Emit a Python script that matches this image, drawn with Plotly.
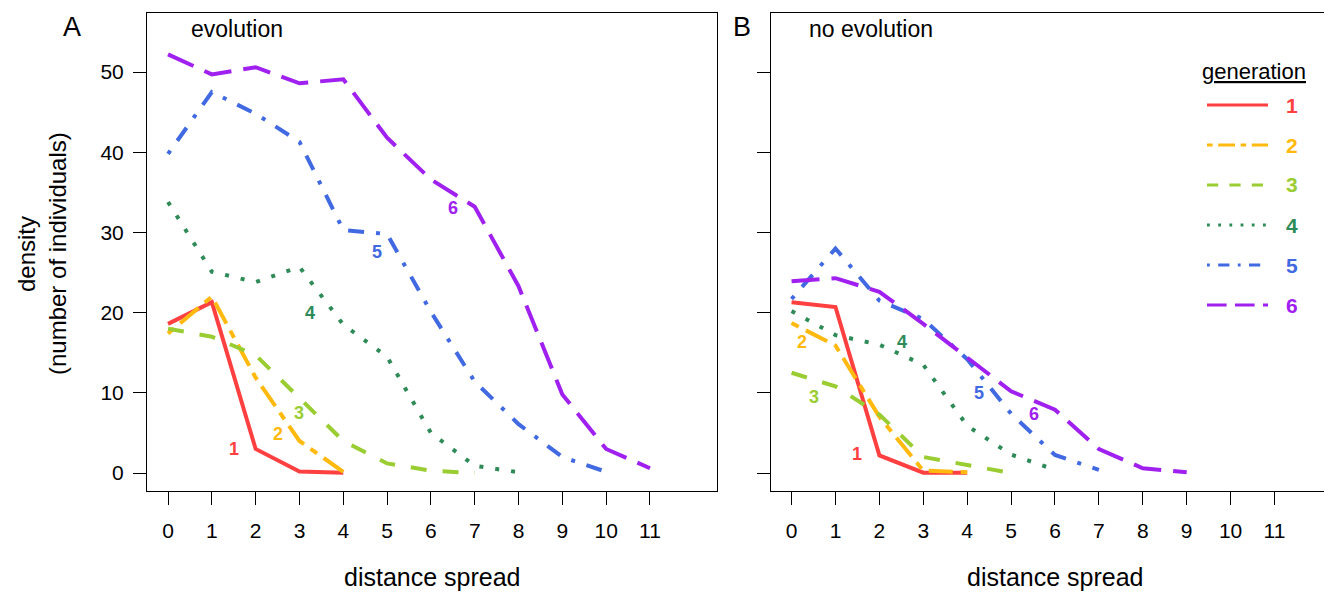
import plotly.graph_objects as go

# distance spread (x) shared by every curve
distance = list(range(12))

# panel A: evolution, density per generation
evo_1 = [18.6, 21.3, 3.0, 0.2, 0.05]
evo_2 = [17.4, 22.0, 11.9, 4.0, 0.15]
evo_3 = [18.0, 17.0, 14.7, 9.3, 4.0, 1.2, 0.3, 0.0]
evo_4 = [33.8, 25.1, 23.8, 25.7, 18.5, 14.5, 5.0, 0.9, 0.1]
evo_5 = [39.8, 47.5, 44.8, 41.3, 30.3, 29.8, 20.1, 11.4, 6.1, 2.0, 0.15]
evo_6 = [52.2, 49.7, 50.6, 48.6, 49.1, 41.8, 36.6, 33.2, 23.3, 9.8, 3.0, 0.6]

# panel B: no evolution
nev_1 = [21.3, 20.7, 2.2, 0.05, 0.05]
nev_2 = [18.7, 15.9, 7.0, 0.3, 0.1]
nev_3 = [12.5, 10.8, 7.3, 2.0, 1.0, 0.0]
nev_4 = [20.2, 17.2, 16.0, 13.5, 5.9, 2.3, 0.4]
nev_5 = [21.7, 28.0, 21.5, 19.2, 14.2, 7.4, 2.25, 0.4]
nev_6 = [23.9, 24.3, 22.6, 18.6, 14.4, 10.2, 7.9, 3.0, 0.6, 0.1]

generations = ["1", "2", "3", "4", "5", "6"]

# where the generation numbers sit next to the curves
evo_lab_x = [1.5, 2.5, 3.0, 3.25, 4.76, 6.51]
evo_lab_y = [3.0, 4.9, 7.5, 20.0, 27.5, 33.1]
nev_lab_x = [1.5, 0.24, 0.5, 2.51, 4.28, 5.53]
nev_lab_y = [2.4, 16.4, 9.5, 16.4, 10.0, 7.4]

colors = ["#FF4040", "#FFB90F", "#9ACD32", "#2E8B57", "#4169E1", "#A020F0"]
lwd = 4.0
leg_lwd = 2.8
# R line types: solid, twodash, dashed, dotted, dotdash, longdash
lty = [None, [2, 2, 6, 2], [4, 4], [1, 3], [1, 3, 4, 3], [7, 3]]


def dash_str(pattern, w):
    if pattern is None:
        return "solid"
    return ",".join(f"{p * w:.1f}px" for p in pattern)


# page body has an 8px margin, so the figure is 8px smaller than the window
OFF = 8
W, H = 1332 - OFF, 594 - OFF
FONT = "Liberation Sans, Arial, sans-serif"


def px(x):
    return (x - OFF) / W


def py(y):
    return 1 - (y - OFF) / H


fig = go.Figure()

for i, ys in enumerate([evo_1, evo_2, evo_3, evo_4, evo_5, evo_6]):
    fig.add_trace(go.Scatter(
        x=distance[:len(ys)], y=ys, mode="lines", xaxis="x", yaxis="y",
        line=dict(color=colors[i], width=lwd, dash=dash_str(lty[i], lwd)),
        showlegend=False, hoverinfo="skip"
    ))

for i, ys in enumerate([nev_1, nev_2, nev_3, nev_4, nev_5, nev_6]):
    fig.add_trace(go.Scatter(
        x=distance[:len(ys)], y=ys, mode="lines", xaxis="x2", yaxis="y2",
        line=dict(color=colors[i], width=lwd, dash=dash_str(lty[i], lwd)),
        showlegend=False, hoverinfo="skip"
    ))

annotations = []
for i, g in enumerate(generations):
    annotations.append(dict(x=evo_lab_x[i], y=evo_lab_y[i], xref="x", yref="y",
                            text=f"<b>{g}</b>",
                            font=dict(size=18, color=colors[i], family=FONT)))
    annotations.append(dict(x=nev_lab_x[i], y=nev_lab_y[i], xref="x2", yref="y2",
                            text=f"<b>{g}</b>",
                            font=dict(size=18, color=colors[i], family=FONT)))

black = dict(color="black", family=FONT)
annotations += [
    dict(x=px(72), y=py(27), text="A", font=dict(size=27, **black)),
    dict(x=px(742), y=py(27), text="B", font=dict(size=27, **black)),
    dict(x=px(189), y=py(29), text="evolution", xanchor="left",
         font=dict(size=23, **black)),
    dict(x=px(807), y=py(29), text="no evolution", xanchor="left",
         font=dict(size=23, **black)),
    dict(x=px(26), y=py(254), text="density", textangle=-90,
         font=dict(size=24, **black)),
    dict(x=px(57), y=py(254), text="(number of individuals)", textangle=-90,
         font=dict(size=24, **black)),
    dict(x=px(432), y=py(577), text="distance spread", font=dict(size=25, **black)),
    dict(x=px(1055), y=py(577), text="distance spread", font=dict(size=25, **black)),
    dict(x=px(1254), y=py(71), text="<u>generation</u>", font=dict(size=22, **black)),
]

# legend: line sample + bold coloured number
shapes = []
for i, g in enumerate(generations):
    row_y = py(105 + 40 * i)
    shapes.append(dict(type="line", xref="paper", yref="paper",
                       x0=px(1207), x1=px(1268), y0=row_y, y1=row_y,
                       line=dict(color=colors[i], width=leg_lwd,
                                 dash=dash_str(lty[i], leg_lwd))))
    annotations.append(dict(x=px(1292), y=row_y, text=f"<b>{g}</b>",
                            font=dict(size=21, color=colors[i], family=FONT)))

for a in annotations:
    a.setdefault("xref", "paper")
    a.setdefault("yref", "paper")
    a.setdefault("xanchor", "center")
    a.setdefault("yanchor", "middle")
    a["showarrow"] = False

yrange = [-2.24, 57.36]
ydom = [py(491), py(13)]
axis_common = dict(showgrid=False, zeroline=False, showline=True, linecolor="black",
                   linewidth=1, ticks="outside", ticklen=13, tickwidth=1,
                   tickcolor="black", tickfont=dict(size=21, color="black", family=FONT))

fig.update_layout(
    width=W, height=H,
    margin=dict(l=0, r=0, t=0, b=0),
    plot_bgcolor="white", paper_bgcolor="white",
    font=dict(family=FONT),
    xaxis=dict(domain=[px(147), px(717)], range=[-0.48, 12.53], anchor="y",
               tickvals=distance, mirror=True, ticklabelstandoff=8, **axis_common),
    yaxis=dict(domain=ydom, range=yrange, anchor="x", tickvals=[0, 10, 20, 30, 40, 50],
               mirror=True, ticklabelstandoff=5, **axis_common),
    xaxis2=dict(domain=[px(770.5), 1], range=[-0.48, 12.31], anchor="y2",
                tickvals=distance, mirror=True, ticklabelstandoff=8, **axis_common),
    yaxis2=dict(domain=ydom, range=yrange, anchor="x2", tickvals=[0, 10, 20, 30, 40, 50],
                showticklabels=False, mirror=False, **axis_common),
    annotations=annotations,
    shapes=shapes,
)

fig.write_html("out.html")
